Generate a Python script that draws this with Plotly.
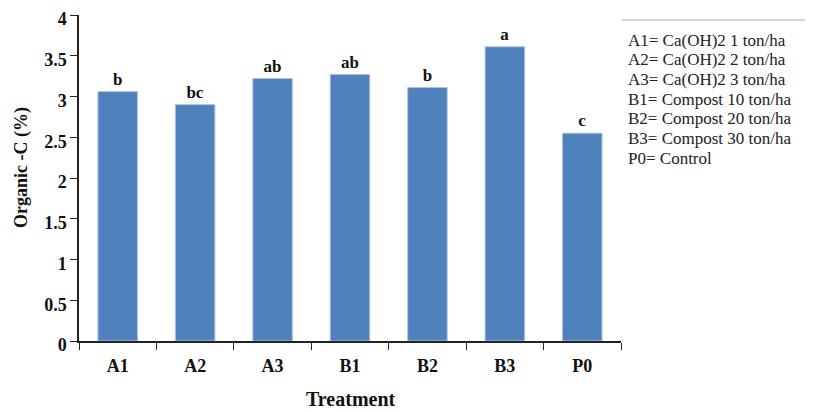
import plotly.graph_objects as go

categories = ["A1", "A2", "A3", "B1", "B2", "B3", "P0"]
values = [3.06, 2.90, 3.22, 3.27, 3.11, 3.61, 2.55]
letters = ["b", "bc", "ab", "ab", "b", "a", "c"]
legend_lines = [
    "A1= Ca(OH)2 1 ton/ha",
    "A2= Ca(OH)2 2 ton/ha",
    "A3= Ca(OH)2 3 ton/ha",
    "B1= Compost 10 ton/ha",
    "B2= Compost 20 ton/ha",
    "B3= Compost 30 ton/ha",
    "P0= Control",
]

serif = "Liberation Serif, Times New Roman, serif"
OFF = 8  # page body margin
W, H = 813 - OFF, 412 - OFF
ML, MR, MT, MB = 79 - OFF, 192, 15 - OFF, 71
PW, PH = W - ML - MR, H - MT - MB


def py(ypage):
    return (H - MB - (ypage - OFF)) / PH


def px(xpage):
    return ((xpage - OFF) - ML) / PW


fig = go.Figure()
fig.add_trace(go.Bar(
    x=categories, y=values, text=letters, textposition="outside",
    texttemplate="<b>%{text}</b>",
    textfont=dict(family=serif, size=17, color="#111111"),
    marker=dict(color="#4F81BD", line=dict(color="#A9C2E2", width=1)),
    cliponaxis=False,
))

fig.update_layout(
    width=W, height=H,
    margin=dict(l=ML, r=MR, t=MT, b=MB),
    paper_bgcolor="white", plot_bgcolor="white",
    bargap=0.49, showlegend=False,
    font=dict(family=serif, color="#111111"),
)
fig.update_xaxes(
    automargin=False, ticklabeloverflow="allow", ticklabelstandoff=8,
    showline=True, linecolor="#222222", linewidth=1.5,
    ticks="outside", tickson="boundaries", ticklen=7, tickcolor="#222222",
    tickfont=dict(family=serif, size=18, weight="bold"),
)
fig.update_yaxes(
    automargin=False, ticklabeloverflow="allow", ticklabelshift=4,
    range=[0, 4], dtick=0.5, showgrid=False, zeroline=False,
    showline=True, linecolor="#222222", linewidth=1.5,
    ticks="outside", ticklen=7, tickcolor="#222222",
    tickfont=dict(family=serif, size=18, weight="bold"),
)

# axis titles
fig.add_annotation(text="<b>Treatment</b>", xref="paper", yref="paper",
                   x=px(351), y=py(399), xanchor="center", yanchor="middle",
                   showarrow=False, font=dict(family=serif, size=20, color="#111111"))
fig.add_annotation(text="<b>Organic -C (%)</b>", xref="paper", yref="paper",
                   x=px(22), y=py(168), xanchor="center", yanchor="middle",
                   textangle=-90, showarrow=False,
                   font=dict(family=serif, size=18, color="#111111"))

# text legend box
fig.add_shape(type="line", xref="paper", yref="paper",
              x0=px(622), x1=px(813), y0=py(20), y1=py(20),
              line=dict(color="#C8C8C8", width=1.5))
for i, line in enumerate(legend_lines):
    fig.add_annotation(
        text=line, xref="paper", yref="paper",
        x=px(626), y=py(40 + i * 19.7), xanchor="left", yanchor="middle",
        showarrow=False, align="left",
        font=dict(family=serif, size=17, color="#222222"),
    )

fig.write_html("out.html")
